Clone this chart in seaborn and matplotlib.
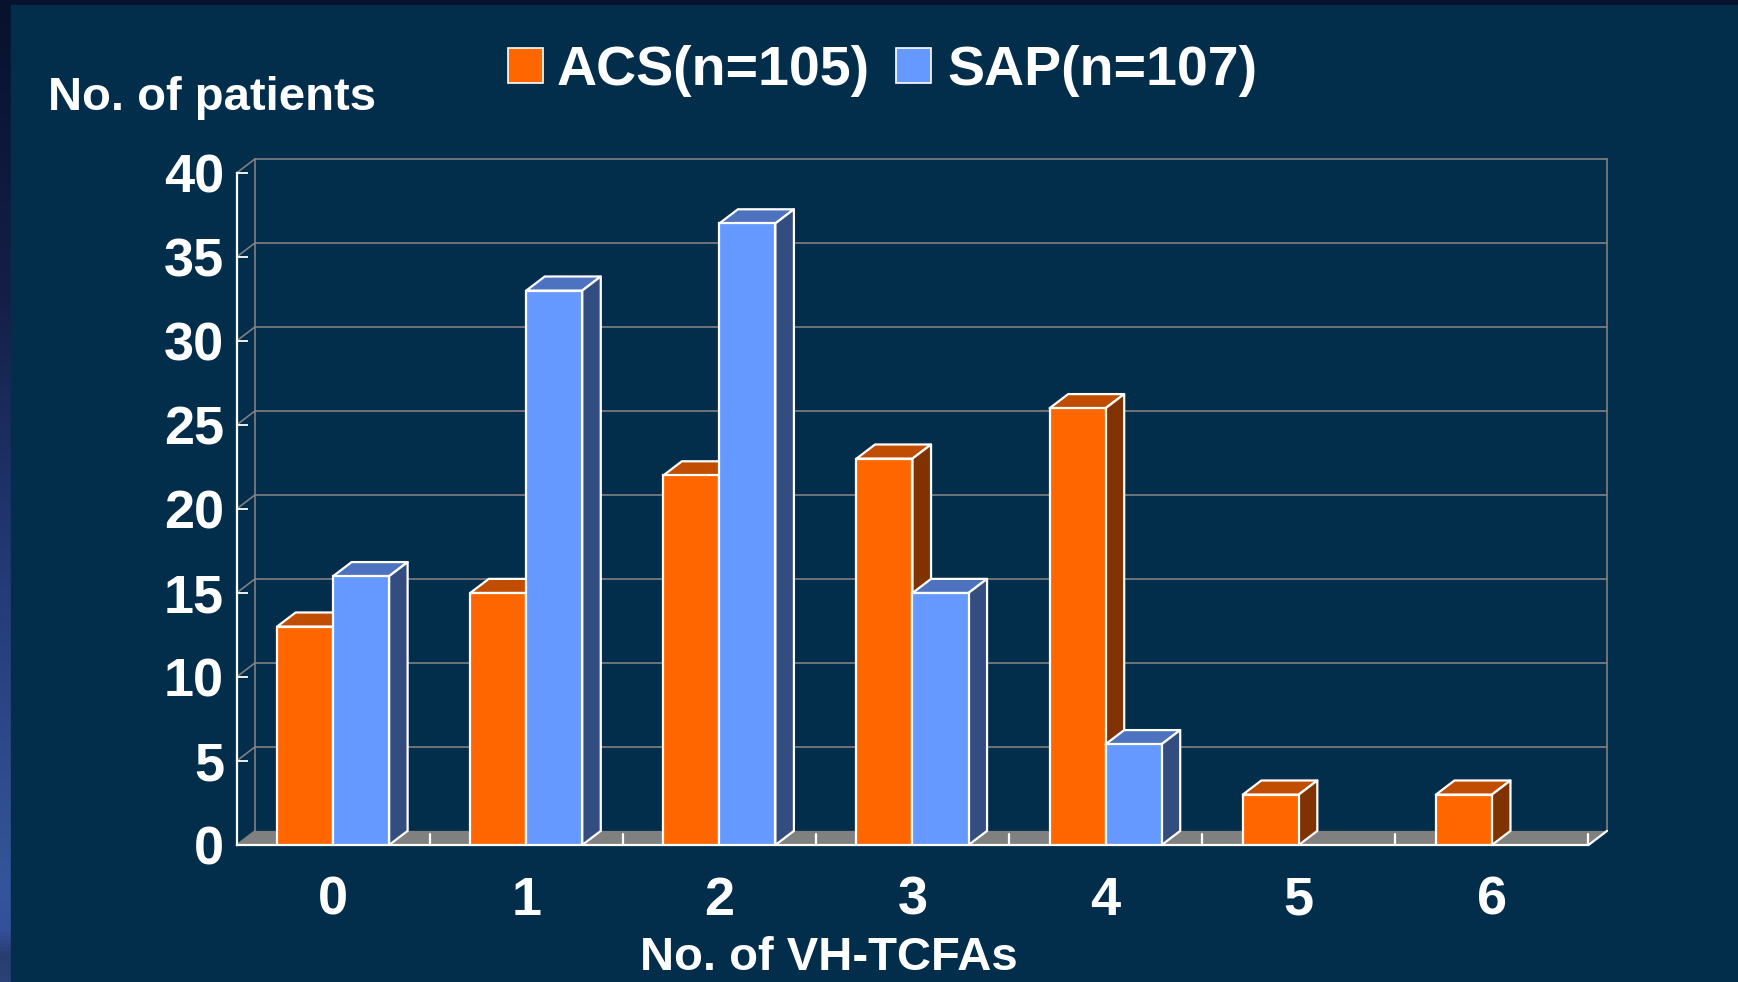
import numpy as np
import pandas as pd
import matplotlib
matplotlib.use("Agg")
import matplotlib.pyplot as plt
from matplotlib.patches import Rectangle, Polygon
from matplotlib.colors import LinearSegmentedColormap
import seaborn as sns

# ---- data -------------------------------------------------------------
categories = ["0", "1", "2", "3", "4", "5", "6"]
acs_counts = [13, 15, 22, 23, 26, 3, 3]
sap_counts = [16, 33, 37, 15, 6, 0, 0]
groups = ["ACS", "SAP"]
legend_labels = ["ACS(n=105)", "SAP(n=107)"]
y_ticks = [0, 5, 10, 15, 20, 25, 30, 35, 40]

# ---- style ------------------------------------------------------------
sns.set_theme(style="white")
plt.rcParams["font.family"] = ["Liberation Sans", "DejaVu Sans"]
plt.rcParams["font.weight"] = "bold"

PANEL = "#022E4C"
GRID = "#808080"
FRONT = {"ACS": "#FF6600", "SAP": "#6699FF"}
TOP = {"ACS": "#C04D00", "SAP": "#4D72C0"}
SIDE = {"ACS": "#803300", "SAP": "#334D80"}
DX, DY = 0.096, 0.84  # depth offset of the 3-D look, in data units

W, H = 1738, 982
fig = plt.figure(figsize=(W / 100, H / 100), dpi=100)
fig.patch.set_facecolor("#06122E")

# background layer in pixel coordinates
bg = fig.add_axes([0, 0, 1, 1], zorder=-10)
bg.set_xlim(0, W)
bg.set_ylim(H, 0)
bg.axis("off")
strip = LinearSegmentedColormap.from_list(
    "strip",
    [(0.0, "#06122E"), (0.3, "#141F48"), (0.6, "#243C78"),
     (0.9, "#34559A"), (0.95, "#33509A"), (0.975, "#283E70"), (1.0, "#2A4275")])
grad = np.linspace(0, 1, 256).reshape(-1, 1)
bg.imshow(grad, cmap=strip, extent=[0, 11, H, 0], aspect="auto", zorder=0)
bg.add_patch(Rectangle((11, 5), W - 11, H - 5, color=PANEL, zorder=1))

# ---- main chart -------------------------------------------------------
df = pd.DataFrame({
    "tcfa": categories * 2,
    "group": [groups[0]] * len(categories) + [groups[1]] * len(categories),
    "count": acs_counts + sap_counts,
})

ax = fig.add_axes([236.5 / W, 1 - 845 / H, 1352 / W, 672 / H])
ax.patch.set_alpha(0)
sns.barplot(data=df, x="tcfa", y="count", hue="group", hue_order=groups,
            palette=[FRONT[g] for g in groups], width=0.58, order=categories,
            edgecolor="white", linewidth=1.6, saturation=1, legend=False,
            errorbar=None, ax=ax)

ax.set_xlim(-0.5, len(categories) - 0.5)
ax.set_ylim(0, 40)
x0, x1 = ax.get_xlim()

# back wall grid lines and left-side diagonals
for y in y_ticks:
    if y > 0:
        ax.plot([x0 + DX, x1 + DX], [y + DY, y + DY], color=GRID, lw=1.2,
                clip_on=False, zorder=0.3)
    ax.plot([x0, x0 + DX], [y, y + DY], color=GRID, lw=1.2,
            clip_on=False, zorder=0.3)
for xe in (x0 + DX, x1 + DX):
    ax.plot([xe, xe], [DY, 40 + DY], color=GRID, lw=1.2, clip_on=False, zorder=0.3)

# floor
ax.add_patch(Polygon([(x0, 0), (x1, 0), (x1 + DX, DY), (x0 + DX, DY)],
                     closed=True, facecolor=GRID, edgecolor="none",
                     clip_on=False, zorder=0.5))
ax.plot([x1, x1 + DX], [0, DY], color="white", lw=1.6, clip_on=False, zorder=0.6)
for xb in np.arange(len(categories)) + 0.5:
    ax.plot([xb, xb], [0, 0.68], color="white", lw=1.6, clip_on=False, zorder=0.6)

# 3-D faces of every bar
for i, (g, cont) in enumerate(zip(groups, ax.containers)):
    for bar in cont:
        h = bar.get_height()
        bar.set_zorder(2.5 + 2 * i)
        if h <= 0:
            bar.set_visible(False)
            continue
        bx, bw = bar.get_x(), bar.get_width()
        top = Polygon([(bx, h), (bx + bw, h), (bx + bw + DX, h + DY), (bx + DX, h + DY)],
                      closed=True, facecolor=TOP[g], edgecolor="white", lw=1.6,
                      joinstyle="round", zorder=2 + 2 * i, clip_on=False)
        side = Polygon([(bx + bw, 0), (bx + bw + DX, DY), (bx + bw + DX, h + DY), (bx + bw, h)],
                       closed=True, facecolor=SIDE[g], edgecolor="white", lw=1.6,
                       joinstyle="round", zorder=2 + 2 * i, clip_on=False)
        ax.add_patch(top)
        ax.add_patch(side)

# axes: white front edges, inward white ticks
for s in ("top", "right"):
    ax.spines[s].set_visible(False)
for s in ("left", "bottom"):
    ax.spines[s].set_color("white")
    ax.spines[s].set_linewidth(1.6)
    ax.spines[s].set_zorder(1)
ax.set_yticks(y_ticks)
ax.set_yticklabels([str(v) for v in y_ticks])
ax.tick_params(axis="y", direction="in", length=8, width=1.3, color="white",
               labelcolor="white", labelsize=39, pad=9, left=True)
ax.tick_params(axis="x", length=0, labelcolor="white", labelsize=39, pad=22)
for lab in ax.get_xticklabels() + ax.get_yticklabels():
    lab.set_fontweight("bold")
ax.set_xlabel("")
ax.set_ylabel("")
ax.grid(False)

# titles and legend
bg.text(48, 110, "No. of patients", color="white", fontsize=34,
        fontweight="bold", ha="left", va="baseline", zorder=3)
bg.text(829, 970, "No. of VH-TCFAs", color="white", fontsize=34,
        fontweight="bold", ha="center", va="baseline", zorder=3)
for g, lab, sx, tx in zip(groups, legend_labels, (508, 896), (557, 947)):
    bg.add_patch(Rectangle((sx, 48), 35, 35, facecolor=FRONT[g],
                           edgecolor="white", lw=1.2, zorder=3))
    bg.text(tx, 85, lab, color="white", fontsize=40, fontweight="bold",
            ha="left", va="baseline", zorder=3)

fig.savefig("out.png", dpi=100, facecolor=fig.get_facecolor())
